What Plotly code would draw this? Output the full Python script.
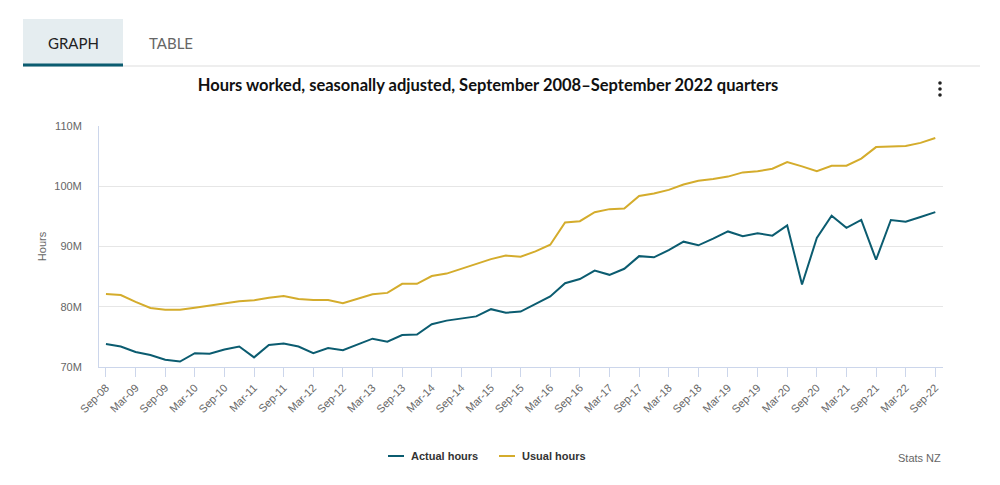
import plotly.graph_objects as go

quarters = [
    "Sep-08", "Dec-08", "Mar-09", "Jun-09", "Sep-09", "Dec-09", "Mar-10", "Jun-10",
    "Sep-10", "Dec-10", "Mar-11", "Jun-11", "Sep-11", "Dec-11", "Mar-12", "Jun-12",
    "Sep-12", "Dec-12", "Mar-13", "Jun-13", "Sep-13", "Dec-13", "Mar-14", "Jun-14",
    "Sep-14", "Dec-14", "Mar-15", "Jun-15", "Sep-15", "Dec-15", "Mar-16", "Jun-16",
    "Sep-16", "Dec-16", "Mar-17", "Jun-17", "Sep-17", "Dec-17", "Mar-18", "Jun-18",
    "Sep-18", "Dec-18", "Mar-19", "Jun-19", "Sep-19", "Dec-19", "Mar-20", "Jun-20",
    "Sep-20", "Dec-20", "Mar-21", "Jun-21", "Sep-21", "Dec-21", "Mar-22", "Jun-22",
    "Sep-22",
]

tick_labels = [
    "Sep-08", "Mar-09", "Sep-09", "Mar-10", "Sep-10", "Mar-11", "Sep-11", "Mar-12",
    "Sep-12", "Mar-13", "Sep-13", "Mar-14", "Sep-14", "Mar-15", "Sep-15", "Mar-16",
    "Sep-16", "Mar-17", "Sep-17", "Mar-18", "Sep-18", "Mar-19", "Sep-19", "Mar-20",
    "Sep-20", "Mar-21", "Sep-21", "Mar-22", "Sep-22",
]

# millions of hours
actual_hours = [
    73.8, 73.4, 72.5, 72.0, 71.2, 70.9, 72.3, 72.2, 72.9, 73.4,
    71.6, 73.65, 73.9, 73.4, 72.3, 73.15, 72.8, 73.8, 74.7, 74.2,
    75.3, 75.4, 77.1, 77.7, 78.0, 78.4, 79.6, 79.0, 79.2, 80.5,
    81.7, 83.9, 84.6, 86.0, 85.3, 86.3, 88.4, 88.2, 89.4, 90.8,
    90.2, 91.3, 92.5, 91.7, 92.2, 91.8, 93.5, 83.7, 91.4, 95.1,
    93.1, 94.4, 87.8, 94.4, 94.1, 94.9, 95.7,
]

usual_hours = [
    82.1, 81.95, 80.8, 79.8, 79.5, 79.5, 79.85, 80.2, 80.5, 80.9,
    81.07, 81.5, 81.8, 81.3, 81.1, 81.1, 80.6, 81.3, 82.06, 82.3,
    83.8, 83.8, 85.1, 85.5, 86.3, 87.2, 87.9, 88.5, 88.3, 89.2,
    90.3, 94.0, 94.2, 95.7, 96.2, 96.3, 98.4, 98.8, 99.4, 100.3,
    100.9, 101.2, 101.6, 102.3, 102.5, 102.9, 104.0, 103.3, 102.5, 103.4,
    103.4, 104.6, 106.5, 106.6, 106.7, 107.2, 108.0,
]

series_names = ["Actual hours", "Usual hours"]

y_ticks = [70, 80, 90, 100, 110]
y_tick_labels = ["70M", "80M", "90M", "100M", "110M"]

TEAL = "#0b5c70"
GOLD = "#d4ac2c"
AXIS = "#ccd6eb"
GRID = "#e6e6e6"
LABEL = "#666666"

# page body has an 8px margin; figure sized to fit the window
OFF = 8
W, H = 992, 469
L, R, T, B = 91, 57, 118, 110
PW, PH = W - L - R, H - T - B


def px(x):
    """screen x -> paper x"""
    return (x - OFF - L) / PW


def py(y):
    """screen y -> paper y"""
    return (H - B - (y - OFF)) / PH


fig = go.Figure()
fig.add_trace(go.Scatter(x=quarters, y=actual_hours, mode="lines", name=series_names[0],
                         line=dict(color=TEAL, width=2), showlegend=False))
fig.add_trace(go.Scatter(x=quarters, y=usual_hours, mode="lines", name=series_names[1],
                         line=dict(color=GOLD, width=2), showlegend=False))

shapes = [
    dict(type="rect", xref="paper", yref="paper", x0=px(23), x1=px(123), y0=py(64), y1=py(19),
         fillcolor="#e5edf0", line=dict(width=0), layer="below"),
    dict(type="line", xref="paper", yref="paper", x0=px(23), x1=px(980), y0=py(66), y1=py(66),
         line=dict(color="#dddddd", width=1)),
    dict(type="line", xref="paper", yref="paper", x0=px(23), x1=px(123), y0=py(65), y1=py(65),
         line=dict(color=TEAL, width=3)),
]
for yy in (83, 89, 95):
    shapes.append(dict(type="circle", xref="paper", yref="paper",
                       x0=px(938.2), x1=px(941.8), y0=py(yy + 1.8), y1=py(yy - 1.8),
                       fillcolor="#222222", line=dict(width=0)))

# legend (line swatch + label)
legend_items = [(series_names[0], TEAL, 388), (series_names[1], GOLD, 499)]
annotations = []
for name, color, x0 in legend_items:
    shapes.append(dict(type="line", xref="paper", yref="paper", x0=px(x0), x1=px(x0 + 16),
                       y0=py(456), y1=py(456), line=dict(color=color, width=2)))
    annotations.append(dict(text=name, xref="paper", yref="paper", x=px(x0 + 21), y=py(456),
                            showarrow=False, xanchor="left", yanchor="middle",
                            font=dict(family="Liberation Sans", size=11, color="#333333",
                                      weight="bold")))

annotations += [
    dict(text="GRAPH", xref="paper", yref="paper", x=px(73), y=py(43), showarrow=False,
         xanchor="center", yanchor="middle", font=dict(family="Lato", size=15, color="#222222")),
    dict(text="TABLE", xref="paper", yref="paper", x=px(171), y=py(43), showarrow=False,
         xanchor="center", yanchor="middle", font=dict(family="Lato", size=15, color="#666666")),
    dict(text="Stats NZ", xref="paper", yref="paper", x=px(943), y=py(458), showarrow=False,
         xanchor="right", yanchor="middle",
         font=dict(family="Liberation Sans", size=11, color="#666666")),
]

fig.update_layout(
    width=W, height=H,
    margin=dict(l=L, r=R, t=T, b=B),
    paper_bgcolor="white", plot_bgcolor="white",
    title=dict(text="Hours worked, seasonally adjusted, September 2008\u2013September 2022 quarters",
               x=(488 - OFF) / W, xanchor="center", xref="container",
               y=1 - (85 - OFF) / H, yanchor="middle", yref="container",
               font=dict(family="Lato", size=16.5, color="#111111", weight="bold")),
    showlegend=False,
    shapes=shapes,
    annotations=annotations,
    xaxis=dict(
        type="category",
        range=[-0.47, 56.52],
        tickmode="array", tickvals=tick_labels, ticktext=tick_labels,
        tickangle=-45,
        ticks="outside", ticklen=9, tickcolor=AXIS, tickwidth=1,
        showline=True, linecolor=AXIS, linewidth=1,
        showgrid=False, zeroline=False,
        tickfont=dict(family="Liberation Sans", size=11, color=LABEL),
        fixedrange=True,
    ),
    yaxis=dict(
        range=[70, 110],
        tickmode="array", tickvals=y_ticks, ticktext=y_tick_labels,
        showgrid=True, gridcolor=GRID, gridwidth=1,
        showline=True, linecolor=AXIS, linewidth=1,
        zeroline=False,
        ticklabelstandoff=14,
        tickfont=dict(family="Liberation Sans", size=11, color=LABEL),
        title=dict(text="Hours", standoff=5,
                   font=dict(family="Liberation Sans", size=11, color=LABEL)),
        automargin=False,
        fixedrange=True,
    ),
)

fig.write_html("out.html", config={"displayModeBar": False})
